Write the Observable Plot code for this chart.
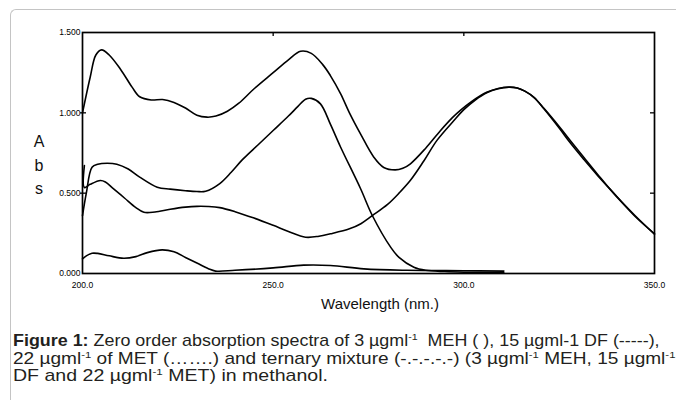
<!DOCTYPE html>
<html>
<head>
<meta charset="utf-8">
<script src="https://cdn.jsdelivr.net/npm/d3@7"></script>
<script src="https://cdn.jsdelivr.net/npm/@observablehq/plot@0.6"></script>
<style>
  html, body { margin: 0; padding: 0; background: #fff; }
  body { width: 676px; height: 403px; overflow: hidden; position: relative; font-family: "Liberation Sans", Arial, sans-serif; }
  #card { position: absolute; left: 10px; top: 9px; width: 720px; height: 391px;
          border-left: 1px solid #c4c4c4; border-top: 1px solid #c4c4c4; border-top-left-radius: 6px; box-sizing: border-box; }
  #chart { position: absolute; left: 0; top: 0; }
  #overlay { position: absolute; left: 0; top: 0; pointer-events: none; }
</style>
</head>
<body>
<div id="card"></div>
<div id="chart"></div>
<svg id="overlay" width="676" height="403"></svg>
<script>
// ---- Data: [wavelength (nm), absorbance] ----
const mixture = [[200,1.00],[202,1.22],[203.5,1.36],[205,1.392],[207,1.36],[210,1.27],[213,1.16],[215,1.10],[218,1.08],[221,1.083],[224,1.065],[227,1.03],[230,0.985],[232.7,0.973],[235,0.98],[238,1.01],[241,1.06],[245,1.15],[250,1.25],[254,1.33],[257.2,1.383],[260,1.37],[263,1.30],[265,1.232],[267.7,1.118],[270,1.00],[272.9,0.869],[276.4,0.724],[279,0.66],[282,0.645],[284,0.655],[286,0.683],[290,0.78],[293.9,0.89],[297,0.97],[299,1.014],[302,1.07],[306,1.128],[309,1.152],[311.8,1.159],[314,1.155],[316,1.135],[318.4,1.097],[321,1.025],[325,0.905],[328,0.81],[331.5,0.709],[335,0.612],[340,0.482],[345,0.353],[350,0.247]];
const meh = [[200.5,0.672],[200.5,0.535],[202,0.555],[204.7,0.579],[206,0.57],[208,0.53],[211,0.47],[214,0.41],[216.1,0.381],[219,0.383],[223,0.40],[227,0.413],[230,0.418],[233,0.417],[236,0.41],[240,0.385],[245,0.345],[250,0.30],[254,0.262],[258.5,0.226],[262,0.232],[265,0.247],[270,0.278],[273,0.31],[276,0.36],[280,0.43],[283,0.50],[286,0.58],[289.5,0.70],[293,0.83],[297.4,0.952],[300,1.02],[303,1.08],[306,1.125],[309,1.15],[311.8,1.16],[314,1.155],[316,1.135],[318.4,1.095],[321,1.028],[325,0.915],[328,0.825],[331.5,0.722],[335,0.62],[340,0.48],[345,0.358],[350,0.245]];
const df = [[200,0.36],[201,0.50],[202.5,0.661],[204,0.68],[206.5,0.686],[209,0.68],[212,0.65],[215,0.60],[219.6,0.537],[223,0.525],[227,0.515],[230,0.51],[232.3,0.512],[236,0.56],[239,0.63],[242,0.71],[246,0.80],[250,0.89],[254,0.98],[256.5,1.04],[258.5,1.085],[260,1.09],[262.4,1.056],[265,0.93],[267.7,0.786],[272.9,0.529],[276,0.361],[280.8,0.164],[283,0.10],[286.9,0.039],[290,0.02],[295,0.012],[300,0.008],[310.5,0.004]];
const met = [[200,0.091],[201,0.11],[202.5,0.126],[204,0.125],[207,0.11],[210.8,0.095],[214,0.105],[217,0.13],[220.9,0.147],[224,0.135],[227,0.10],[230,0.065],[233,0.03],[234.9,0.015],[240,0.02],[250,0.035],[258,0.052],[265,0.05],[273.8,0.029],[285,0.02],[300,0.017],[310.5,0.015]];

const seriesNames = ["Mixture", "MEH", "DF", "MET"];
const xTicks = [200, 250, 300, 350];
const yTicks = [0, 0.5, 1.0, 1.5];
const innerXTicks = [250, 300];
const innerYTicks = [0.5, 1.0];
const xLabel = "Wavelength (nm.)";
const yLabelLetters = ["A", "b", "s"];

const table = [mixture, meh, df, met].flatMap((s, i) =>
  s.map(([w, a]) => ({series: seriesNames[i], w, a})));

const W = 676, H = 315, mL = 82, mR = 22, mT = 32, mB = 42;
const innerW = W - mL - mR, innerH = H - mT - mB;

const chart = Plot.plot({
  width: W, height: H,
  marginLeft: mL, marginRight: mR, marginTop: mT, marginBottom: mB,
  style: {fontFamily: "'Liberation Sans', Arial, sans-serif", color: "#000", background: "transparent", overflow: "visible"},
  x: {domain: [200, 350]},
  y: {domain: [0, 1.5]},
  marks: [
    Plot.axisX(xTicks, {anchor: "bottom", tickSize: 0, tickPadding: 8, fontSize: 8.5, tickFormat: d => d.toFixed(1), label: null}),
    Plot.axisY(yTicks, {anchor: "left", tickSize: 0, tickPadding: 2, fontSize: 8.5, tickFormat: d => d.toFixed(3), label: null}),
    Plot.tickX(innerXTicks, {x: d => d, insetBottom: innerH - 4, stroke: "#000", strokeWidth: 1.3}),
    Plot.tickY(innerYTicks, {y: d => d, insetRight: innerW - 6, dx: -2, stroke: "#000", strokeWidth: 1.3}),
    Plot.tickY(innerYTicks, {y: d => d, insetLeft: innerW - 4, stroke: "#000", strokeWidth: 1.3}),
    Plot.line(table, {x: "w", y: "a", z: "series", stroke: "#000", strokeWidth: 1.6, curve: "catmull-rom"}),
    Plot.frame({stroke: "#000", strokeWidth: 1.7})
  ]
});
document.getElementById("chart").appendChild(chart);

// ---- Overlay text (axis titles & caption) ----
const ov = d3.select("#overlay");
const font = "'Liberation Sans', Arial, sans-serif";
const yBase = [147, 170.5, 194];
yLabelLetters.forEach((t, i) => {
  ov.append("text").attr("x", 39).attr("y", yBase[i]).attr("text-anchor", "middle")
    .attr("font-family", font).attr("font-size", 16).attr("fill", "#111").text(t);
});
ov.append("text").attr("x", 380).attr("y", 309).attr("text-anchor", "middle")
  .attr("font-family", font).attr("font-size", 15).attr("fill", "#111").text(xLabel);

// caption lines: segments [text, kind] kind: "b" bold, "s" superscript, "" normal
const captionLines = [
  [["Figure 1:", "b"], [" Zero order absorption spectra of 3 µgml", ""], ["-1", "s"], ["  MEH ( ), 15 µgml-1 DF (-----),", ""]],
  [["22 µgml", ""], ["-1", "s"], [" of MET (…….) and ternary mixture (-.-.-.-.-) (3 µgml", ""], ["-1", "s"], [" MEH, 15 µgml", ""], ["-1", "s"]],
  [["DF and 22 µgml", ""], ["-1", "s"], [" MET) in methanol.", ""]]
];
const capBase = [346, 363.5, 381];
const capTarget = [647, 663, 315];
captionLines.forEach((segs, i) => {
  const g = ov.append("g");
  const t = g.append("text").attr("x", 0).attr("y", 0).attr("font-family", font)
    .attr("font-size", 16).attr("fill", "#231f20").style("white-space", "pre");
  let raised = false;
  segs.forEach(([s, k]) => {
    const sp = t.append("tspan").text(s);
    if (k === "b") sp.attr("font-weight", "bold");
    if (k === "s") { sp.attr("font-size", 9.5).attr("dy", -6); raised = true; }
    else if (raised) { sp.attr("dy", 6); raised = false; }
  });
  const len = t.node().getComputedTextLength();
  const s = capTarget[i] / len;
  g.attr("transform", `translate(13,${capBase[i]}) scale(${s},1)`);
});
</script>
</body>
</html>
